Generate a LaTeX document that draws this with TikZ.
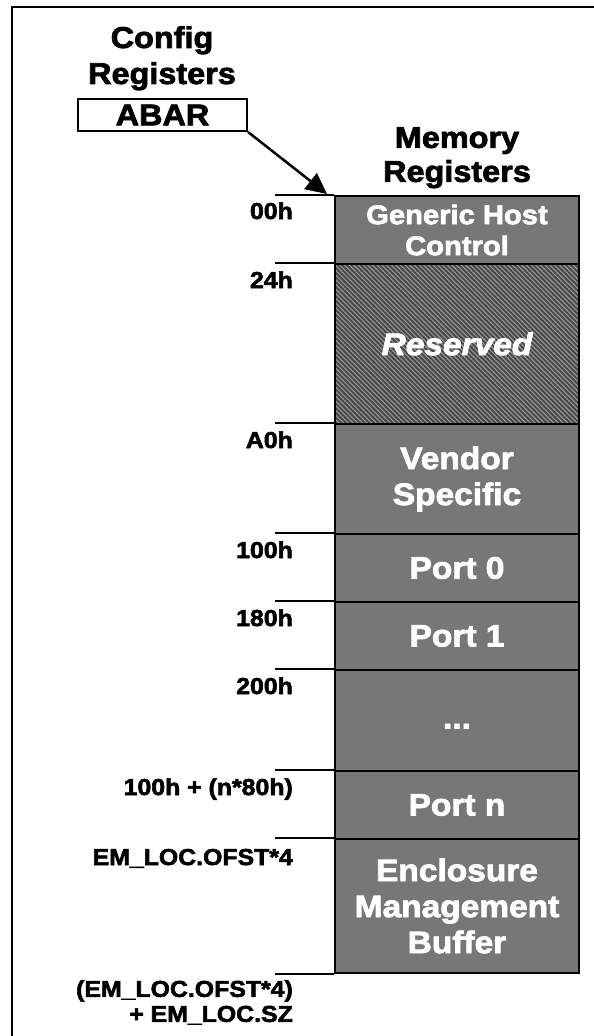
\documentclass[tikz,border=0pt]{standalone}
\usepackage{fontspec}
\setmainfont{Liberation Sans}[BoldFeatures={FakeStretch=1.08,FakeBold=2.5},BoldItalicFeatures={FakeStretch=1.08,FakeBold=2.5}]
\usetikzlibrary{patterns.meta,arrows.meta}
\definecolor{blkgray}{HTML}{777777}
\begin{document}
\begin{tikzpicture}[x=1pt,y=-1pt,
  blk/.style={draw, line width=2.5pt, fill=blkgray, minimum width=244pt, inner sep=0pt,
    text=white, align=center, font=\fontsize{31}{36}\selectfont\bfseries},
  lbl/.style={anchor=base east, inner sep=0pt, align=right, font=\fontsize{23}{25}\selectfont\bfseries},
  head/.style={anchor=north, inner sep=0pt, align=center},
  tick/.style={line width=2pt},
  frame/.style={line width=2pt}]
\useasboundingbox (0,0) rectangle (594,1036);
% frame
\draw[frame] (12,1040) -- (12,7) -- (600,7);
% headings
\node[head, font=\fontsize{30}{36}\selectfont\bfseries] (cfg) at (162,26) {Config\\Registers};
\node[head, font=\fontsize{30}{34}\selectfont\bfseries] (mem) at (457,127) {Memory\\Registers};
% ABAR
\node[draw, line width=2pt, minimum width=169pt, minimum height=32pt, inner sep=0pt,
  font=\fontsize{30}{36}\selectfont\bfseries] (abar) at (162.5,115) {ABAR};
% blocks
\node[blk, minimum height=68pt, font=\fontsize{27}{31}\selectfont\bfseries] (ghc) at (457,230) {Generic Host\\Control};
\node[blk, minimum height=160pt, preaction={fill=black!72},
  pattern={Lines[angle=-45,distance=3.3pt,line width=1.1pt]}, pattern color=black!40,
  font=\fontsize{31}{36}\selectfont\bfseries\itshape] (res) at (457,344) {Reserved};
\node[blk, minimum height=110pt] (ven) at (457,479) {Vendor\\Specific};
\node[blk, minimum height=68pt] (p0) at (457,568) {Port 0};
\node[blk, minimum height=68pt] (p1) at (457,636) {Port 1};
\node[blk, minimum height=101pt] (dots) at (457,720.5) {};
\node[anchor=base, text=white, inner sep=0pt, font=\fontsize{31}{36}\selectfont\bfseries] (dotstxt) at (dots.center) [yshift=-8pt] {...};
\node[blk, minimum height=68pt] (pn) at (457,805) {Port n};
\node[blk, minimum height=134pt] (emb) at (457,906) {Enclosure\\Management\\Buffer};
% arrow
\coordinate (tip) at (327,194);
\draw[line width=2.5pt, -{Triangle[length=21pt,width=20pt]}] (abar.south east) -- (tip);
% ticks
\foreach \n in {ghc,res,ven,p0,p1,dots,pn,emb}{
  \draw[tick] (\n.north west) -- ++(-59,0);
}
\draw[tick] (emb.south west) -- ++(-59,0);
% labels
\node[lbl] (l0) at (293,219) {00h};
\node[lbl] (l1) at (293,288) {24h};
\node[lbl] (l2) at (293,448) {A0h};
\node[lbl] (l3) at (293,558) {100h};
\node[lbl] (l4) at (293,626) {180h};
\node[lbl] (l5) at (293,694) {200h};
\node[lbl] (l6) at (293,795) {100h + (n*80h)};
\node[lbl] (l7) at (293,865) {EM\_LOC.OFST*4};
\node[lbl, anchor=north east] (l8) at (293,980) {(EM\_LOC.OFST*4)\\+ EM\_LOC.SZ};
\end{tikzpicture}
\end{document}
